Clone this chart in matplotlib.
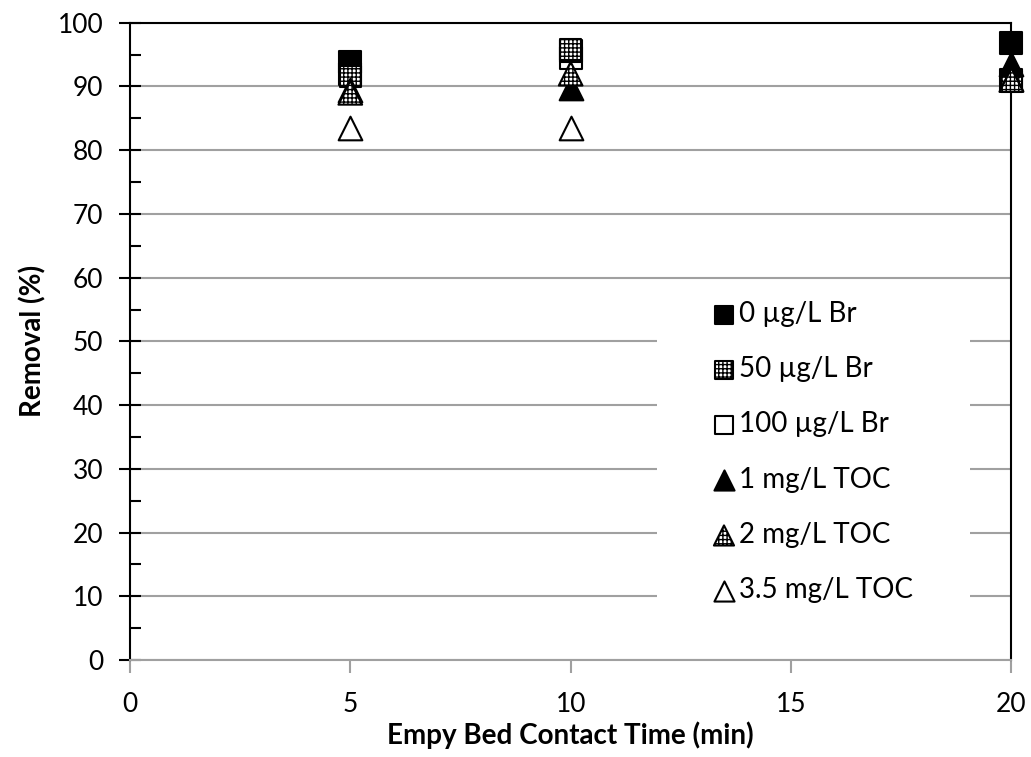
import matplotlib
matplotlib.use('Agg')
import matplotlib.pyplot as plt
from matplotlib.patches import Rectangle
from matplotlib.ticker import MultipleLocator

plt.rcParams['font.family'] = ['Lato', 'DejaVu Sans']

# Datos
ebct = [5, 10, 20]
series = {
    '0 µg/L Br':     [93.8, 95.5, 96.8],
    '50 µg/L Br':    [91.5, 95.8, 90.8],
    '100 µg/L Br':   [92.0, 94.5, 91.0],
    '1 mg/L TOC':    [89.5, 89.8, 93.5],
    '2 mg/L TOC':    [89.0, 92.0, 91.0],
    '3.5 mg/L TOC':  [83.5, 83.5, 91.2],
}

# estilos: (marcador, relleno, hatch, zorder)
estilos = {
    '0 µg/L Br':    ('s', 'black', None, 4),
    '50 µg/L Br':   ('s', 'white', '++++', 5),
    '100 µg/L Br':  ('s', 'white', None, 3),
    '1 mg/L TOC':   ('^', 'black', None, 6),
    '2 mg/L TOC':   ('^', 'white', '++++', 7),
    '3.5 mg/L TOC': ('^', 'white', None, 6),
}

fig = plt.figure(figsize=(10.31, 7.57), dpi=100)
ax = fig.add_axes([0.126, 0.128, 0.855, 0.842])

for nombre, vals in series.items():
    m, fc, h, z = estilos[nombre]
    size = 230 if m == 's' else 290
    ax.scatter(ebct, vals, marker=m, s=size, facecolor=fc, edgecolor='black',
               linewidth=1.5, hatch=h, label=nombre, zorder=z, clip_on=False)

ax.set_xlim(0, 20)
ax.set_ylim(0, 100)
ax.xaxis.set_major_locator(MultipleLocator(5))
ax.yaxis.set_major_locator(MultipleLocator(10))
ax.yaxis.set_minor_locator(MultipleLocator(5))

ax.grid(axis='y', color='#a0a0a0', linewidth=1.5, zorder=0)
ax.set_axisbelow(True)

for s in ['left', 'top', 'right']:
    ax.spines[s].set_color('black')
    ax.spines[s].set_linewidth(1.5)
ax.spines['bottom'].set_color('#a0a0a0')
ax.spines['bottom'].set_linewidth(1.5)

ax.tick_params(axis='y', which='major', direction='inout', length=16, width=1.5,
               labelsize=19, pad=11)
ax.tick_params(axis='y', which='minor', direction='in', length=8, width=1.5)
ax.tick_params(axis='x', which='major', direction='out', length=9, width=1.5,
               color='#a0a0a0', labelsize=19, pad=14)

ax.set_xlabel('Empy Bed Contact Time (min)', fontsize=20, fontweight='bold', labelpad=3)
ax.set_ylabel('Removal (%)', fontsize=20, fontweight='bold', labelpad=8)

# fondo blanco de la leyenda (tapa la cuadrícula)
fondo = Rectangle((0.5975, 0.0706), 0.355, 0.51, transform=ax.transAxes,
                  facecolor='white', edgecolor='none', zorder=9)
ax.add_patch(fondo)

leg = ax.legend(loc='center', bbox_to_anchor=(0.775, 0.3265), fontsize=20,
                frameon=False, labelspacing=1.05, handletextpad=0.15,
                handlelength=0.8, scatterpoints=1, markerscale=0.85)
leg.set_zorder(10)

plt.savefig('out.png', dpi=100)
